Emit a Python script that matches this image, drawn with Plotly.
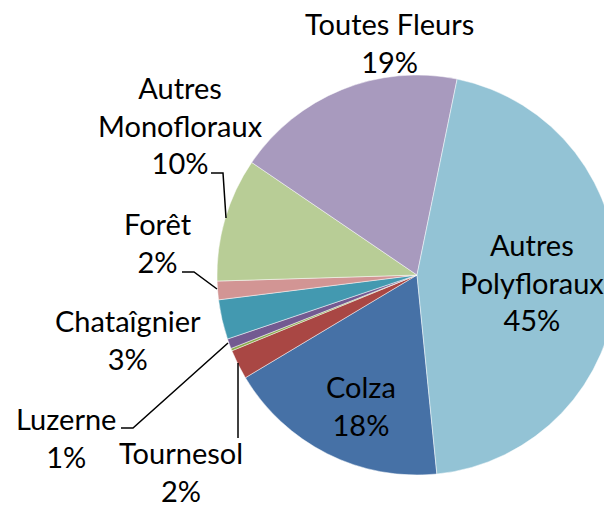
import math
import plotly.graph_objects as go

# ---- data ----
categories = ["Colza", "Tournesol", "Lavande", "Luzerne", "Chataîgnier", "Forêt",
              "Autres Monofloraux", "Toutes Fleurs", "Autres Polyfloraux"]
values = [18.0, 2.4, 0.2, 0.8, 3.2, 1.5, 10.0, 18.7, 45.2]
colors = ["#4671A6", "#A94744", "#8AAA4C", "#735A91", "#4399B0", "#D29594",
          "#B8CD96", "#A89ABE", "#93C3D5"]
show_label = [True, True, False, True, True, True, True, True, True]

W, H = 620, 510
FONT = "Lato"
FS = 29

total = sum(values)
pcts = [int(math.floor(v / total * 100 + 0.5)) for v in values]

fig = go.Figure(go.Pie(
    labels=categories,
    values=values,
    sort=False,
    direction="clockwise",
    rotation=174.3,
    marker=dict(colors=colors, line=dict(color="rgba(255,255,255,0.6)", width=0.8)),
    textinfo="none",
    hoverinfo="label+percent",
    showlegend=False,
    domain=dict(x=[217 / W, 617 / W], y=[1 - 475 / H, 1 - 75 / H]),
))

# label placement (pixel centres of each label block)
label_pos = {
    "Colza": (361, 405),
    "Tournesol": (181, 471),
    "Luzerne": (66, 437),
    "Chataîgnier": (128, 339),
    "Forêt": (158, 242),
    "Autres Monofloraux": (180, 125),
    "Toutes Fleurs": (389, 42),
    "Autres Polyfloraux": (532, 282),
}

annotations = []
for cat, p, show in zip(categories, pcts, show_label):
    if not show:
        continue
    name = cat.replace("Autres ", "Autres<br>")
    px, py = label_pos[cat]
    annotations.append(dict(
        x=px / W, y=1 - py / H, xref="paper", yref="paper",
        text=f"{name}<br>{p}%", showarrow=False,
        xanchor="center", yanchor="middle", align="center",
        font=dict(family=FONT, size=FS, color="#000000"),
    ))

# leader lines (pixel paths)
leaders = [
    [(211, 173), (223, 173), (226, 218)],
    [(182, 272), (194, 272), (217, 289)],
    [(121, 428), (133, 428), (228, 343)],
    [(238, 363), (238, 438)],
]
shapes = []
for pts in leaders:
    path = "M " + " L ".join(f"{x / W},{1 - y / H}" for x, y in pts)
    shapes.append(dict(type="path", xref="paper", yref="paper", path=path,
                       line=dict(color="#000000", width=1.5)))

fig.update_layout(
    width=W, height=H, autosize=False,
    margin=dict(l=0, r=0, t=0, b=0),
    paper_bgcolor="white", plot_bgcolor="white",
    annotations=annotations, shapes=shapes,
)

fig.write_html(
    "out.html",
    config={"displayModeBar": False},
    post_script=(
        "document.documentElement.style.overflow='hidden';"
        "document.body.style.overflow='hidden';"
        "document.body.style.margin='0';"
    ),
)
